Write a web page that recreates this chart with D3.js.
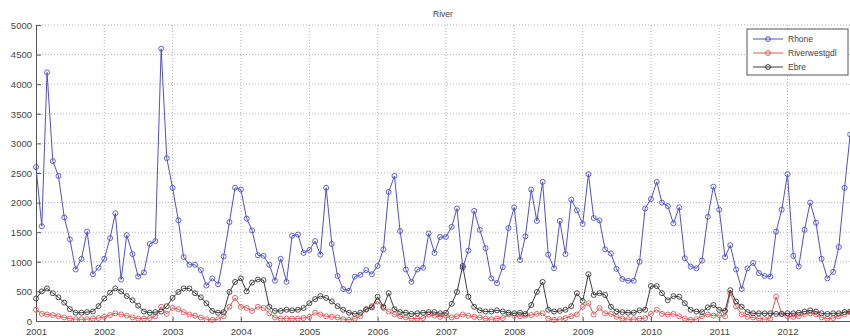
<!DOCTYPE html>
<html>
<head>
<meta charset="utf-8">
<script src="https://cdn.jsdelivr.net/npm/d3@7"></script>
<style>
  body { margin: 0; background: #fff; }
  svg { display: block; font-family: "Liberation Sans", Arial, sans-serif; }
</style>
</head>
<body>
<div id="chart-area"></div>
<script>
// monthly values, Jan 2001 .. Dec 2012
var rhone = [
  2600, 1600, 4200, 2700, 2450, 1750, 1380, 870, 1050, 1510, 790, 900,
  1050, 1400, 1820, 700, 1450, 1130, 750, 820, 1300, 1350, 4600, 2750,
  2250, 1700, 1080, 950, 950, 860, 600, 720, 620, 1090, 1670, 2250,
  2220, 1730, 1530, 1110, 1100, 950, 680, 1050, 660, 1440, 1460, 1150,
  1200, 1350, 1120, 2250, 1300, 760, 540, 510, 750, 780, 860, 790,
  930, 1210, 2180, 2450, 1520, 870, 660, 870, 900, 1480, 1150, 1420,
  1420, 1590, 1900, 900, 1190, 1860, 1540, 1230, 720, 640, 910, 1570,
  1920, 1030, 1430, 2220, 1690, 2350, 1120, 890, 1690, 1130, 2050, 1870,
  1640, 2480, 1740, 1700, 1210, 1140, 880, 710, 680, 680, 1000, 1900,
  2060, 2350, 2000, 1940, 1650, 1920, 1060, 920, 890, 1020, 1760, 2270,
  1880, 1080, 1280, 870, 540, 890, 980, 810, 760, 750, 1510, 1880,
  2480, 1100, 920, 1540, 2000, 1660, 1050, 720, 830, 1250, 2250, 3150
];

var riverwestgdl = [
  190, 120, 110, 100, 80, 60, 40, 30, 30, 30, 40, 50,
  70, 100, 130, 110, 90, 60, 40, 40, 50, 80, 240, 120,
  220, 200, 150, 110, 90, 60, 30, 20, 30, 80, 240, 390,
  240, 220, 170, 240, 220, 130, 60, 40, 40, 40, 40, 50,
  70, 140, 110, 80, 70, 60, 30, 20, 40, 80, 190, 250,
  330, 220, 160, 110, 80, 60, 40, 40, 50, 110, 90, 70,
  90, 60, 80, 110, 90, 70, 60, 40, 30, 40, 50, 110,
  90, 80, 90, 100, 120, 130, 40, 20, 30, 50, 80, 110,
  240, 300, 110, 220, 130, 120, 70, 40, 30, 30, 40, 50,
  120, 190, 120, 110, 120, 80, 40, 20, 30, 80, 110, 90,
  100, 80, 470, 250, 110, 70, 60, 40, 30, 40, 410, 120,
  80, 70, 80, 120, 130, 110, 60, 40, 50, 80, 110, 150
];

var ebre = [
  380, 500, 550, 470, 400, 310, 200, 140, 140, 150, 160, 250,
  380, 480, 550, 500, 420, 350, 260, 160, 140, 150, 160, 250,
  390, 490, 550, 550, 470, 400, 300, 170, 140, 150, 490, 660,
  720, 500, 650, 700, 690, 240, 170, 170, 190, 180, 190, 220,
  300, 370, 420, 390, 330, 250, 190, 140, 120, 140, 200, 230,
  410, 240, 470, 200, 150, 140, 120, 130, 140, 150, 150, 130,
  140, 290, 490, 930, 410, 240, 180, 160, 160, 180, 160, 140,
  130, 140, 120, 270, 490, 660, 190, 160, 170, 190, 250, 470,
  340, 790, 440, 470, 440, 240, 160, 150, 140, 140, 180, 190,
  590, 590, 470, 350, 420, 410, 300, 190, 160, 150, 230, 270,
  190, 170, 520, 330, 240, 150, 130, 130, 130, 130, 120, 120,
  130, 130, 140, 160, 180, 160, 130, 120, 130, 130, 150, 160
];

var years = [2001, 2002, 2003, 2004, 2005, 2006, 2007, 2008, 2009, 2010, 2011, 2012];
var yTicks = [0, 500, 1000, 1500, 2000, 2500, 3000, 3500, 4000, 4500, 5000];
var seriesNames = ["Rhone", "Riverwestgdl", "Ebre"];
var seriesColors = ["#5050c8", "#d85a5a", "#3a3a3a"];

var months = d3.timeMonth.range(new Date(2001, 0, 1), new Date(2013, 0, 1));
var series = [rhone, riverwestgdl, ebre];

var width = 850, height = 336;
var plot = { left: 36, right: 856, top: 25, bottom: 321 };

var svg = d3.select("#chart-area").append("svg")
    .attr("width", width)
    .attr("height", height);

var x = d3.scaleTime()
    .domain([new Date(2001, 0, 1), new Date(2013, 0, 1)])
    .range([plot.left, plot.right]);

var y = d3.scaleLinear()
    .domain([0, 5000])
    .range([plot.bottom, plot.top]);

// dotted grid
var grid = svg.append("g").attr("class", "grid");
grid.selectAll("line.h")
    .data(yTicks.slice(1))
    .enter().append("line")
        .attr("class", "h")
        .attr("x1", plot.left).attr("x2", plot.right)
        .attr("y1", (d) => { return y(d); })
        .attr("y2", (d) => { return y(d); });
grid.selectAll("line.v")
    .data(years.slice(1))
    .enter().append("line")
        .attr("class", "v")
        .attr("x1", (d) => { return x(new Date(d, 0, 1)); })
        .attr("x2", (d) => { return x(new Date(d, 0, 1)); })
        .attr("y1", plot.top).attr("y2", plot.bottom);
grid.selectAll("line")
    .attr("stroke", "#b4b4b4")
    .attr("stroke-width", 1)
    .attr("stroke-dasharray", "1,2");

// axes, matlab style ticks pointing in
var leftAxis = d3.axisLeft(y)
    .tickValues(yTicks)
    .tickFormat(d3.format("d"))
    .tickSizeInner(-5)
    .tickSizeOuter(0)
    .tickPadding(8);

var yAxis = svg.append("g")
    .attr("class", "left axis")
    .attr("transform", "translate(" + plot.left + ",0)")
    .call(leftAxis);

var bottomAxis = d3.axisBottom(x)
    .tickValues(years.map((d) => { return new Date(d, 0, 1); }))
    .tickFormat(d3.timeFormat("%Y"))
    .tickSizeInner(-4)
    .tickSizeOuter(0)
    .tickPadding(7);

var xAxis = svg.append("g")
    .attr("class", "bottom axis")
    .attr("transform", "translate(0," + plot.bottom + ")")
    .call(bottomAxis);

svg.selectAll(".axis path, .axis line")
    .attr("stroke", "#555")
    .attr("stroke-width", 1);
svg.selectAll(".axis text")
    .attr("fill", "#444")
    .attr("font-size", "9.5px")
    .attr("font-family", "Liberation Sans, Arial, sans-serif");
yAxis.selectAll("text").attr("x", -4).attr("dy", "0.35em");

// series lines and markers
var line = d3.line()
    .x((d, i) => { return x(months[i]); })
    .y((d) => { return y(d); });

series.forEach((data, k) => {
    var g = svg.append("g").attr("class", "series " + seriesNames[k]);
    g.append("path")
        .datum(data)
        .attr("fill", "none")
        .attr("stroke", seriesColors[k])
        .attr("stroke-width", 1)
        .attr("d", line);
    g.selectAll("circle")
        .data(data)
        .enter().append("circle")
            .attr("cx", (d, i) => { return x(months[i]); })
            .attr("cy", (d) => { return y(d); })
            .attr("r", 2.5)
            .attr("fill", "none")
            .attr("stroke", seriesColors[k])
            .attr("stroke-width", 0.9);
});

// title
svg.append("text")
    .attr("x", 443)
    .attr("y", 17)
    .attr("text-anchor", "middle")
    .attr("font-size", "8.5px")
    .attr("fill", "#444")
    .text("River");

// legend
var legend = svg.append("g").attr("transform", "translate(747,29)");
legend.append("rect")
    .attr("width", 101)
    .attr("height", 46)
    .attr("fill", "#fff")
    .attr("stroke", "#555")
    .attr("stroke-width", 1);

var items = legend.selectAll("g.item")
    .data(seriesNames)
    .enter().append("g")
        .attr("class", "item")
        .attr("transform", (d, i) => { return "translate(0," + (10 + i * 14) + ")"; });
items.append("line")
    .attr("x1", 6).attr("x2", 36)
    .attr("stroke", (d, i) => { return seriesColors[i]; })
    .attr("stroke-width", 1);
items.append("circle")
    .attr("cx", 21).attr("r", 2.4)
    .attr("fill", "none")
    .attr("stroke", (d, i) => { return seriesColors[i]; });
items.append("text")
    .attr("x", 41)
    .attr("dy", "0.35em")
    .attr("font-size", "8.5px")
    .attr("fill", "#444")
    .text((d) => { return d; });
</script>
</body>
</html>
